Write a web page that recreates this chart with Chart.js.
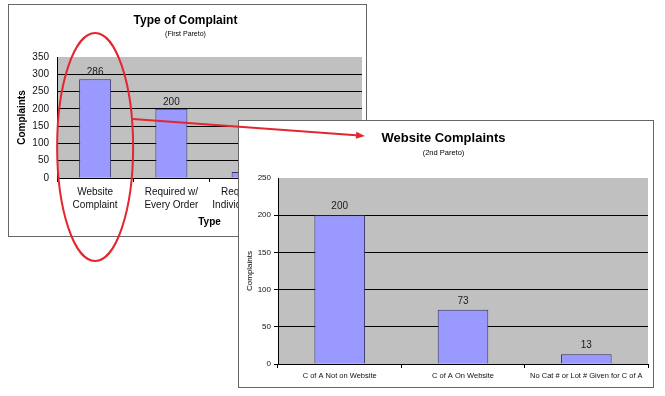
<!DOCTYPE html>
<html>
<head>
<meta charset="utf-8">
<script src="https://cdn.jsdelivr.net/npm/chart.js@4.4.0/dist/chart.umd.min.js"></script>
<style>
  html, body { margin: 0; padding: 0; background: #fff; }
  body { width: 665px; height: 396px; position: relative; overflow: hidden; }
  .box { position: absolute; background: #fff; border: 1px solid #666; }
  #box1 { left: 8px; top: 4px; width: 357px; height: 231px; }
  #box2 { left: 238px; top: 120px; width: 414px; height: 266px; }
  .box canvas { display: block; }
  #overlay { position: absolute; left: 0; top: 0; pointer-events: none; }
</style>
</head>
<body>
<div class="box" id="box1"><canvas id="typeChart"></canvas></div>
<div class="box" id="box2"><canvas id="webChart"></canvas></div>
<canvas id="overlay" width="665" height="396"></canvas>

<script>
// first pareto - type of complaint (bars 3 and 4 are mostly hidden behind the 2nd chart)
const typeCategories = [['Website', 'Complaint'], ['Required w/', 'Every Order'], ['Required w/', 'Individual Order'], ['Other']];
const typeValues = [286, 200, 17, 8];
const typeTicks = [0, 50, 100, 150, 200, 250, 300, 350];

// second pareto - website complaints
const webCategories = ['C of A Not on Website', 'C of A On Website', 'No Cat # or Lot # Given for C of A'];
const webValues = [200, 73, 13];
const webTicks = [0, 50, 100, 150, 200, 250];

const FONT = '"Liberation Sans", Arial, sans-serif';

// gray plot area like excel
const plotBg = {
  id: 'plotBg',
  beforeDraw(chart, args, opts) {
    const { ctx, chartArea: a } = chart;
    ctx.save();
    ctx.fillStyle = opts.color;
    ctx.fillRect(a.left, a.top, a.right - a.left, a.bottom - a.top);
    ctx.restore();
  }
};

// value printed above each bar
const valueLabels = {
  id: 'valueLabels',
  afterDatasetsDraw(chart, args, opts) {
    const ctx = chart.ctx;
    const data = chart.data.datasets[0].data;
    ctx.save();
    ctx.font = opts.font;
    ctx.fillStyle = '#1a1a1a';
    ctx.textAlign = 'center';
    ctx.textBaseline = 'alphabetic';
    chart.getDatasetMeta(0).data.forEach((bar, i) => {
      ctx.fillText(String(data[i]), bar.x, bar.y - opts.offset);
    });
    ctx.restore();
  }
};

function gridColor(max) {
  return (c) => (c.tick && c.tick.value === max) ? 'rgba(0,0,0,0)' : '#000';
}

let chart1 = new Chart(document.getElementById('typeChart'), {
  type: 'bar',
  data: {
    labels: typeCategories,
    datasets: [{
      data: typeValues,
      backgroundColor: '#9999ff',
      borderColor: '#333366',
      borderWidth: 1,
      categoryPercentage: 1,
      barPercentage: 0.42
    }]
  },
  plugins: [plotBg, valueLabels],
  options: {
    responsive: true,
    maintainAspectRatio: false,
    animation: false,
    layout: { padding: { left: 0, right: 4, top: 0, bottom: 0 } },
    plugins: {
      legend: { display: false },
      tooltip: { enabled: false },
      title: {
        display: true, text: 'Type of Complaint', color: '#000',
        font: { family: FONT, size: 12, weight: 'bold' },
        padding: { top: 8, bottom: 2.6 }
      },
      subtitle: {
        display: true, text: '(First Pareto)', color: '#000',
        font: { family: FONT, size: 7 },
        padding: { top: 0, bottom: 18.6 }
      },
      plotBg: { color: '#c0c0c0' },
      valueLabels: { font: '10px ' + FONT, offset: 4 }
    },
    scales: {
      x: {
        grid: { offset: true, drawOnChartArea: false, drawTicks: true, tickLength: 4, color: '#000' },
        border: { color: '#000' },
        ticks: { color: '#111', font: { family: FONT, size: 10, lineHeight: 1.3 }, padding: 4, maxRotation: 0, autoSkip: false },
        title: { display: true, text: 'Type', color: '#000', font: { family: FONT, size: 10, weight: 'bold' }, padding: { top: 0, bottom: 8 } },
        afterFit(s) { s.height = 58; }
      },
      y: {
        min: typeTicks[0],
        max: typeTicks[typeTicks.length - 1],
        ticks: { stepSize: typeTicks[1] - typeTicks[0], color: '#111', font: { family: FONT, size: 10 }, padding: 8 },
        grid: { color: gridColor(typeTicks[typeTicks.length - 1]), drawTicks: false },
        border: { color: '#000' },
        title: { display: true, text: 'Complaints', color: '#000', font: { family: FONT, size: 10, weight: 'bold' }, padding: { top: 7, bottom: 0 } },
        afterFit(s) { s.width = 48; }
      }
    }
  }
});

let chart2 = new Chart(document.getElementById('webChart'), {
  type: 'bar',
  data: {
    labels: webCategories,
    datasets: [{
      data: webValues,
      backgroundColor: '#9999ff',
      borderColor: '#333366',
      borderWidth: 1,
      categoryPercentage: 1,
      barPercentage: 0.41
    }]
  },
  plugins: [plotBg, valueLabels],
  options: {
    responsive: true,
    maintainAspectRatio: false,
    animation: false,
    layout: { padding: { left: 0, right: 5, top: 0, bottom: 0 } },
    plugins: {
      legend: { display: false },
      tooltip: { enabled: false },
      title: {
        display: true, text: 'Website Complaints', color: '#000',
        font: { family: FONT, size: 13, weight: 'bold' },
        padding: { top: 9.2, bottom: 2.7 }
      },
      subtitle: {
        display: true, text: '(2nd Pareto)', color: '#000',
        font: { family: FONT, size: 7.5 },
        padding: { top: 0, bottom: 20.5 }
      },
      plotBg: { color: '#c0c0c0' },
      valueLabels: { font: '10px ' + FONT, offset: 6 }
    },
    scales: {
      x: {
        grid: { offset: true, drawOnChartArea: false, drawTicks: true, tickLength: 4, color: '#000' },
        border: { color: '#000' },
        ticks: { color: '#111', font: { family: FONT, size: 7.5 }, padding: 3.5, maxRotation: 0, autoSkip: false },
        afterFit(s) { s.height = 23; }
      },
      y: {
        min: webTicks[0],
        max: webTicks[webTicks.length - 1],
        ticks: { stepSize: webTicks[1] - webTicks[0], color: '#111', font: { family: FONT, size: 8 }, padding: 3 },
        grid: { color: gridColor(webTicks[webTicks.length - 1]), drawTicks: true, tickLength: 4 },
        border: { color: '#000' },
        title: { display: true, text: 'Complaints', color: '#000', font: { family: FONT, size: 8 }, padding: { top: 6, bottom: 0 } },
        afterFit(s) { s.width = 39; }
      }
    }
  }
});

// red ellipse round the first bar and the arrow pointing to the 2nd chart
const ov = document.getElementById('overlay').getContext('2d');
const firstBar = chart1.getDatasetMeta(0).data[0];
const cx = 9 + firstBar.x;
ov.strokeStyle = '#e3262f';
ov.fillStyle = '#e3262f';
ov.lineWidth = 2;
ov.beginPath();
ov.ellipse(cx, 147, 38, 114, 0, 0, Math.PI * 2);
ov.stroke();

const ax0 = 133, ay0 = 119, ax1 = 365, ay1 = 136;
const ang = Math.atan2(ay1 - ay0, ax1 - ax0);
const headLen = 9, headW = 3.5;
const bx = ax1 - headLen * Math.cos(ang), by = ay1 - headLen * Math.sin(ang);
ov.beginPath();
ov.moveTo(ax0, ay0);
ov.lineTo(bx, by);
ov.stroke();
ov.beginPath();
ov.moveTo(ax1, ay1);
ov.lineTo(bx + headW * Math.sin(ang), by - headW * Math.cos(ang));
ov.lineTo(bx - headW * Math.sin(ang), by + headW * Math.cos(ang));
ov.closePath();
ov.fill();
</script>
</body>
</html>
